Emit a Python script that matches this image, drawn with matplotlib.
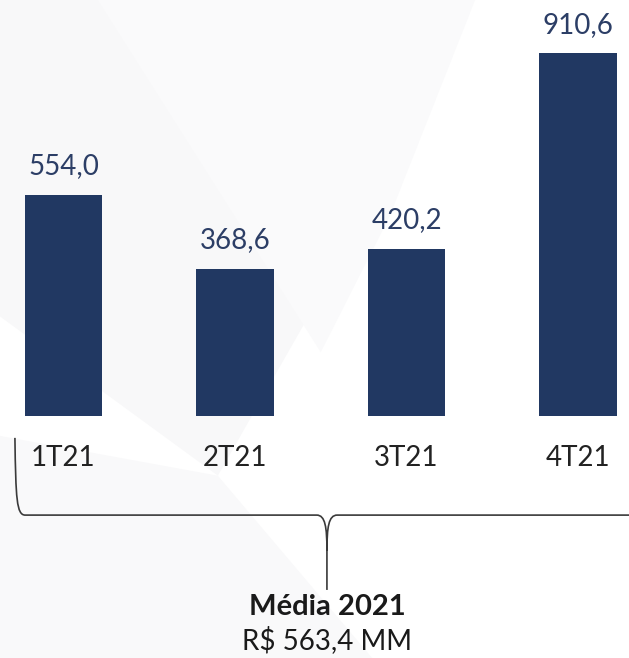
import matplotlib.pyplot as plt
from matplotlib.path import Path
from matplotlib.patches import PathPatch, Polygon

quarters = ['1T21', '2T21', '3T21', '4T21']
values = [554.0, 368.6, 420.2, 910.6]
media_title = 'Média 2021'
media_value = 'R$ 563,4 MM'

plt.rcParams['font.family'] = ['Lato', 'DejaVu Sans']

fig = plt.figure(figsize=(6.29, 6.58), dpi=100)
ax = fig.add_axes([0, 0, 1, 1])
ax.set_xlim(-0.37, 3.297)
ax.set_ylim(-608, 1045)
ax.axis('off')

# faint diagonal shapes in the background
bg = [
    [(-0.37, 1045), (0.55, 1045), (1.6, 380), (0.9, -150), (-0.37, 250)],
    [(0.2, 1045), (2.4, 1045), (1.9, 500), (1.5, 160)],
    [(-0.37, -50), (0.9, -150), (1.8, -608), (-0.37, -608)],
]
for pts, c in zip(bg, ['#f8f8f9', '#fafafb', '#f9f9fa']):
    ax.add_patch(Polygon(pts, closed=True, facecolor=c, edgecolor='none', zorder=0))

bars = ax.bar(range(len(values)), values, width=0.45, color='#213862', zorder=2)
for i, v in enumerate(values):
    ax.text(i, v + 40, f'{v:.1f}'.replace('.', ','), ha='center', va='bottom',
            fontsize=20, color='#2c3e66')
    ax.text(i, -105, quarters[i], ha='center', va='center', fontsize=20, color='#222222')

# curly brace under the quarters
xl, xm, xr = -0.283, 1.536, 3.4
ytop, ymid, ytip = -55, -249, -437
verts = [
    (xl, ytop), (xl + 0.005, ymid + 40), (xl + 0.01, ymid), (xl + 0.06, ymid),
    (xm - 0.06, ymid),
    (xm - 0.01, ymid), (xm, ymid - 30), (xm, ymid - 90),
    (xm, ytip),
    (xm, ymid - 90), (xm, ymid - 30), (xm + 0.01, ymid), (xm + 0.06, ymid),
    (xr, ymid),
]
codes = [Path.MOVETO, Path.CURVE4, Path.CURVE4, Path.CURVE4,
         Path.LINETO,
         Path.CURVE4, Path.CURVE4, Path.CURVE4,
         Path.LINETO,
         Path.MOVETO, Path.CURVE4, Path.CURVE4, Path.CURVE4,
         Path.LINETO]
ax.add_patch(PathPatch(Path(verts, codes), facecolor='none', edgecolor='#3a3a3a',
                       linewidth=1.2, zorder=3))

ax.text(xm, -480, media_title, ha='center', va='center', fontsize=21,
        fontweight='bold', color='#1a1a1a')
ax.text(xm, -563, media_value, ha='center', va='center', fontsize=20, color='#1a1a1a')

fig.savefig('out.png', dpi=100)
